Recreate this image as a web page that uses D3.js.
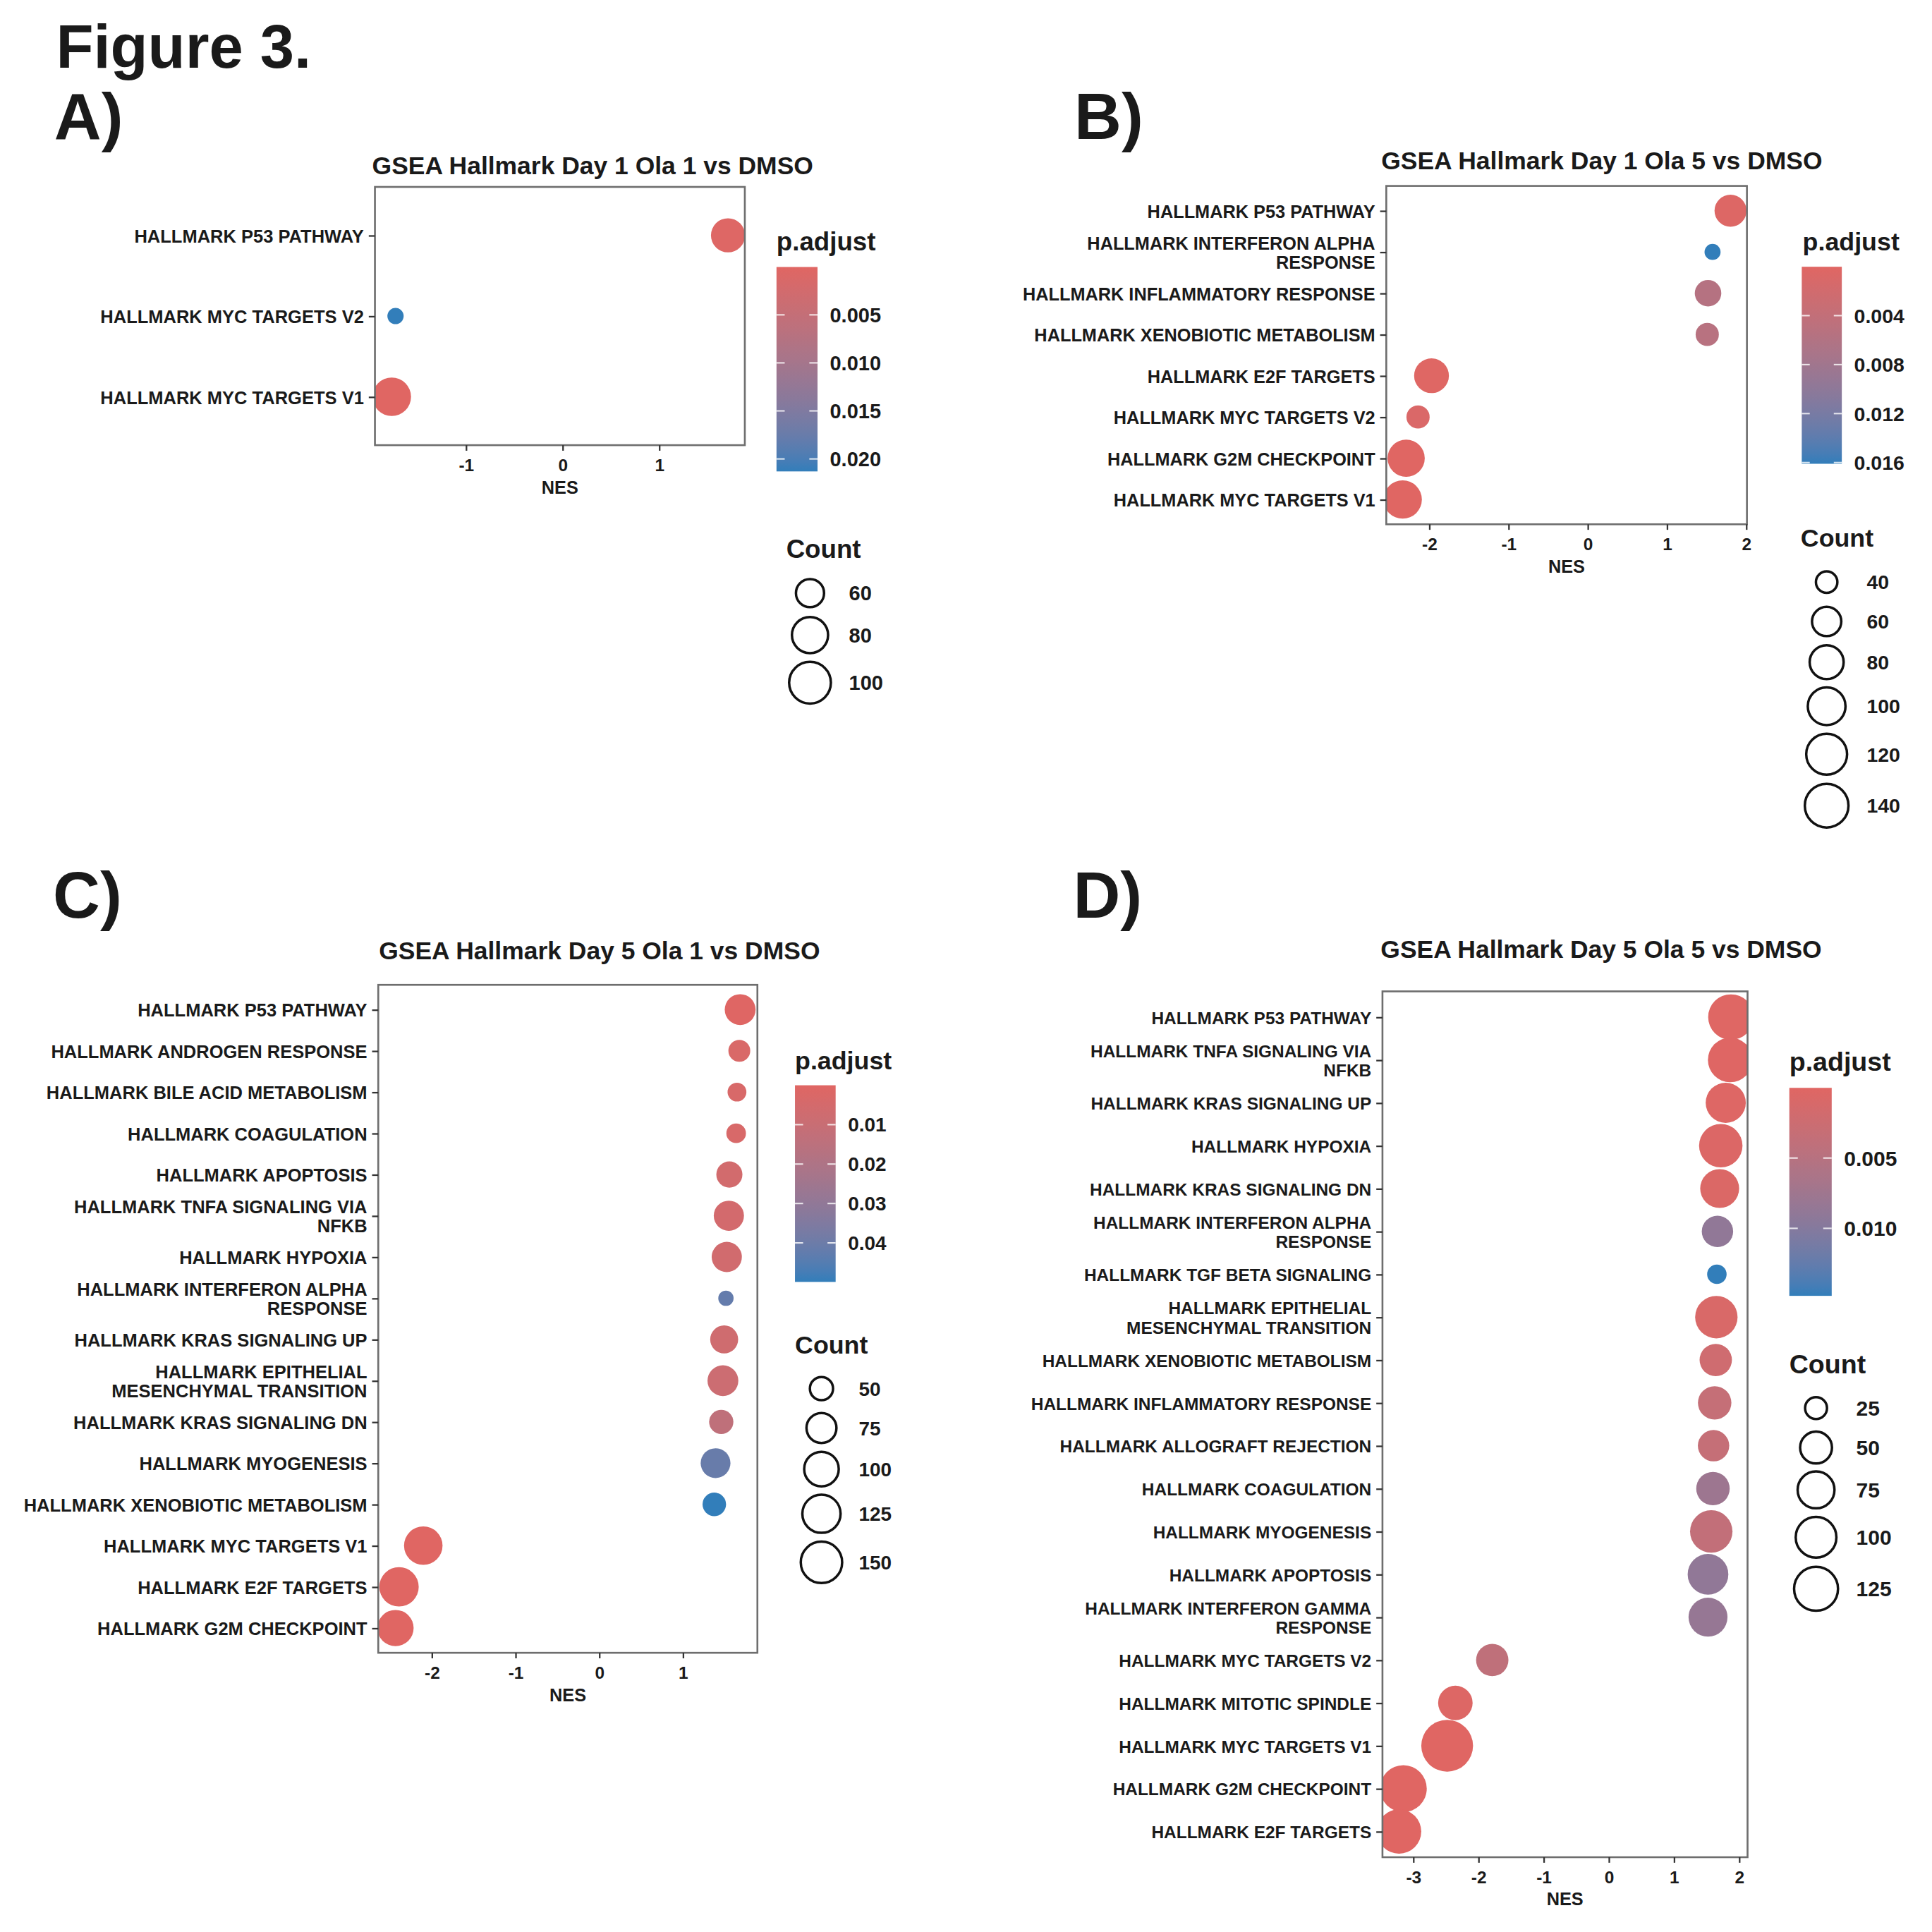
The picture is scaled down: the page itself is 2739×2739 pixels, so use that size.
<!DOCTYPE html>
<html>
<head>
<meta charset="utf-8">
<script src="https://cdn.jsdelivr.net/npm/d3@7"></script>
<style>
  body { margin: 0; background: #fff; }
  text { font-family: "Liberation Sans", Arial, sans-serif; font-weight: bold; fill: #1a1a1a; }
</style>
</head>
<body>
<div id="visual"></div>
<script>
// ---- Panel A: Day 1 Ola 1 vs DMSO
var aTerms = ["HALLMARK P53 PATHWAY", "HALLMARK MYC TARGETS V2", "HALLMARK MYC TARGETS V1"];
var aNES   = [1.714, -1.728, -1.767];
var aPadj  = [0.0004, 0.0213, 0.00002];
var aCount = [74, 49, 88];
var aXTicks = [-1, 0, 1];
var aPBreaks = [0.005, 0.010, 0.015, 0.020];
var aCountBreaks = [60, 80, 100];

// ---- Panel B: Day 1 Ola 5 vs DMSO
var bTerms = ["HALLMARK P53 PATHWAY", "HALLMARK INTERFERON ALPHA\nRESPONSE", "HALLMARK INFLAMMATORY RESPONSE",
  "HALLMARK XENOBIOTIC METABOLISM", "HALLMARK E2F TARGETS", "HALLMARK MYC TARGETS V2",
  "HALLMARK G2M CHECKPOINT", "HALLMARK MYC TARGETS V1"];
var bNES   = [1.804, 1.577, 1.52, 1.51, -1.97, -2.14, -2.29, -2.334];
var bPadj  = [0.0004, 0.0161, 0.0056, 0.0053, 0.0002, 0.0009, 0.00006, 0.00001];
var bCount = [71, 36, 51, 43, 84, 43, 97, 104];
var bXTicks = [-2, -1, 0, 1, 2];
var bPBreaks = [0.004, 0.008, 0.012, 0.016];
var bCountBreaks = [40, 60, 80, 100, 120, 140];

// ---- Panel C: Day 5 Ola 1 vs DMSO
var cTerms = ["HALLMARK P53 PATHWAY", "HALLMARK ANDROGEN RESPONSE", "HALLMARK BILE ACID METABOLISM",
  "HALLMARK COAGULATION", "HALLMARK APOPTOSIS", "HALLMARK TNFA SIGNALING VIA\nNFKB", "HALLMARK HYPOXIA",
  "HALLMARK INTERFERON ALPHA\nRESPONSE", "HALLMARK KRAS SIGNALING UP", "HALLMARK EPITHELIAL\nMESENCHYMAL TRANSITION",
  "HALLMARK KRAS SIGNALING DN", "HALLMARK MYOGENESIS", "HALLMARK XENOBIOTIC METABOLISM",
  "HALLMARK MYC TARGETS V1", "HALLMARK E2F TARGETS", "HALLMARK G2M CHECKPOINT"];
var cNES   = [1.685, 1.675, 1.647, 1.637, 1.556, 1.55, 1.525, 1.515, 1.494, 1.479, 1.459, 1.391, 1.376, -2.10, -2.39, -2.432];
var cPadj  = [0.0005, 0.003, 0.0033, 0.0035, 0.006, 0.0055, 0.0065, 0.042, 0.007, 0.0085, 0.0135, 0.041, 0.0499, 0.0001, 0.00001, 0.00003];
var cCount = [79, 47, 42, 43, 59, 76, 76, 40, 66, 79, 53, 74, 51, 127, 134, 111];
var cXTicks = [-2, -1, 0, 1];
var cPBreaks = [0.01, 0.02, 0.03, 0.04];
var cCountBreaks = [50, 75, 100, 125, 150];

// ---- Panel D: Day 5 Ola 5 vs DMSO
var dTerms = ["HALLMARK P53 PATHWAY", "HALLMARK TNFA SIGNALING VIA\nNFKB", "HALLMARK KRAS SIGNALING UP",
  "HALLMARK HYPOXIA", "HALLMARK KRAS SIGNALING DN", "HALLMARK INTERFERON ALPHA\nRESPONSE",
  "HALLMARK TGF BETA SIGNALING", "HALLMARK EPITHELIAL\nMESENCHYMAL TRANSITION", "HALLMARK XENOBIOTIC METABOLISM",
  "HALLMARK INFLAMMATORY RESPONSE", "HALLMARK ALLOGRAFT REJECTION", "HALLMARK COAGULATION",
  "HALLMARK MYOGENESIS", "HALLMARK APOPTOSIS", "HALLMARK INTERFERON GAMMA\nRESPONSE",
  "HALLMARK MYC TARGETS V2", "HALLMARK MITOTIC SPINDLE", "HALLMARK MYC TARGETS V1",
  "HALLMARK G2M CHECKPOINT", "HALLMARK E2F TARGETS"];
var dNES   = [1.876, 1.865, 1.796, 1.72, 1.703, 1.669, 1.66, 1.652, 1.643, 1.626, 1.609, 1.60, 1.574, 1.524, 1.524, -1.786, -2.352, -2.478, -3.15, -3.216];
var dPadj  = [0.0002, 0.0001, 0.0003, 0.0005, 0.0006, 0.0089, 0.0148, 0.0009, 0.0022, 0.0034, 0.0034, 0.0077, 0.0037, 0.0089, 0.0084, 0.004, 0.0004, 0.00005, 0.00001, 0.00002];
var dCount = [139, 131, 96, 121, 88, 48, 24, 113, 52, 57, 48, 57, 113, 100, 88, 52, 62, 200, 150, 129];
var dXTicks = [-3, -2, -1, 0, 1, 2];
var dPBreaks = [0.005, 0.010];
var dCountBreaks = [25, 50, 75, 100, 125];

var lowCol = "#e06663", highCol = "#327eba";

// layout in a 1568 unit coordinate system, scaled up by the viewBox
var panels = [
  {title: "GSEA Hallmark Day 1 Ola 1 vs DMSO", terms: aTerms, nes: aNES, padj: aPadj, count: aCount,
   xTicks: aXTicks, pBreaks: aPBreaks, countBreaks: aCountBreaks, pFmt: ".3f",
   box: [304.3, 151.7, 604.5, 361.3], titleXY: [481, 134], rRange: [6.6, 15.65],
   bar: [630.2, 216.7, 33.3, 165.9], barTitleXY: [630.2, 197.7], countTitleXY: [638.1, 445.4],
   keyX: 657.4, keyLabelX: 689, fs: {axis: 14.6, tick: 14, legTitle: 21, legText: 16.6}},
  {title: "GSEA Hallmark Day 1 Ola 5 vs DMSO", terms: bTerms, nes: bNES, padj: bPadj, count: bCount,
   xTicks: bXTicks, pBreaks: bPBreaks, countBreaks: bCountBreaks, pFmt: ".3f",
   box: [1125.1, 150.9, 1417.8, 425.5], titleXY: [1300, 130], rRange: [6.5, 15.57],
   bar: [1462.3, 216.5, 32.5, 159.9], barTitleXY: [1463, 197.7], countTitleXY: [1461.4, 436.4],
   keyX: 1482.5, keyLabelX: 1515, fs: {axis: 14.5, tick: 14, legTitle: 20.5, legText: 16.3}},
  {title: "GSEA Hallmark Day 5 Ola 1 vs DMSO", terms: cTerms, nes: cNES, padj: cPadj, count: cCount,
   xTicks: cXTicks, pBreaks: cPBreaks, countBreaks: cCountBreaks, pFmt: ".2f",
   box: [307, 799.3, 614.7, 1341.4], titleXY: [486.5, 771], rRange: [6.2, 15.99],
   bar: [645.2, 880.8, 33, 159.6], barTitleXY: [645.2, 862.8], countTitleXY: [645.2, 1091],
   keyX: 666.7, keyLabelX: 697, fs: {axis: 14.6, tick: 14, legTitle: 20.5, legText: 16}},
  {title: "GSEA Hallmark Day 5 Ola 5 vs DMSO", terms: dTerms, nes: dNES, padj: dPadj, count: dCount,
   xTicks: dXTicks, pBreaks: dPBreaks, countBreaks: dCountBreaks, pFmt: ".3f",
   box: [1122, 804.6, 1418.3, 1507.3], titleXY: [1299.5, 770], rRange: [7.9, 21],
   bar: [1452.2, 882.9, 34.4, 168.8], barTitleXY: [1452.2, 863.5], countTitleXY: [1452.2, 1106.8],
   keyX: 1473.9, keyLabelX: 1506.5, fs: {axis: 14, tick: 14, legTitle: 21.5, legText: 17.2}}
];

var svg = d3.select("#visual").append("svg")
  .attr("width", 2739).attr("height", 2739)
  .attr("viewBox", "0 0 1568 1568");
svg.append("rect").attr("width", 1568).attr("height", 1568).attr("fill", "#fff");
var defs = svg.append("defs");

// figure letters
svg.append("text").attr("x", 45.5).attr("y", 55.2).attr("font-size", 49.7).text("Figure 3.");
[["A)", 44, 113], ["B)", 871.9, 113], ["C)", 43, 745], ["D)", 871, 745]].forEach(function(l) {
  svg.append("text").attr("x", l[1]).attr("y", l[2]).attr("font-size", 53).text(l[0]);
});

panels.forEach(function(P, i) {
  var g = svg.append("g");
  var box = P.box;

  // x: NES with ggplot style 5% expansion
  var ext = d3.extent(P.nes), pad = (ext[1] - ext[0]) * 0.05;
  var x = d3.scaleLinear().domain([ext[0] - pad, ext[1] + pad]).range([box[0], box[2]]);
  var y = d3.scalePoint().domain(P.terms).range([box[1], box[3]]).padding(0.6);

  var pExt = d3.extent(P.padj);
  var col = d3.scaleLinear().domain(pExt).range([lowCol, highCol]).interpolate(d3.interpolateLab);

  var nExt = d3.extent(P.count);
  var size = d3.scaleSqrt().domain([0, nExt[1] - nExt[0]]).range(P.rRange);
  function rad(n) { return size(n - nExt[0]); }

  var rows = P.terms.map(function(t, j) {
    return {term: t, nes: P.nes[j], padj: P.padj[j], count: P.count[j]};
  });

  // clip so points stop at the panel border
  defs.append("clipPath").attr("id", "clip" + i)
    .append("rect")
    .attr("x", box[0]).attr("y", box[1])
    .attr("width", box[2] - box[0]).attr("height", box[3] - box[1]);

  g.append("g").attr("clip-path", "url(#clip" + i + ")")
    .selectAll("circle")
    .data(rows)
    .enter()
    .append("circle")
    .attr("cx", function(d) { return x(d.nes); })
    .attr("cy", function(d) { return y(d.term); })
    .attr("r", function(d) { return rad(d.count); })
    .attr("fill", function(d) { return col(d.padj); });

  g.append("rect")
    .attr("x", box[0]).attr("y", box[1])
    .attr("width", box[2] - box[0]).attr("height", box[3] - box[1])
    .attr("fill", "none").attr("stroke", "#6e6e6e").attr("stroke-width", 1.5);

  // y axis with wrapped labels
  var lh = 15.5;
  var yAx = g.append("g")
    .attr("transform", "translate(" + box[0] + ",0)")
    .call(d3.axisLeft(y).tickSize(5).tickPadding(4));
  yAx.select(".domain").remove();
  yAx.selectAll(".tick line").attr("stroke", "#333").attr("stroke-width", 1.3);
  yAx.selectAll(".tick text")
    .attr("font-size", P.fs.axis)
    .attr("dy", null)
    .each(function(d) {
      var t = d3.select(this), lines = d.split("\n");
      t.text(null);
      lines.forEach(function(line, k) {
        t.append("tspan")
          .attr("x", -9)
          .attr("y", (k - (lines.length - 1) / 2) * lh)
          .attr("dy", "0.36em")
          .text(line);
      });
    });

  // x axis
  var xAx = g.append("g")
    .attr("transform", "translate(0," + box[3] + ")")
    .call(d3.axisBottom(x).tickValues(P.xTicks).tickFormat(function(d) { return String(d); }).tickSize(4.5));
  xAx.select(".domain").remove();
  xAx.selectAll(".tick line").attr("stroke", "#333").attr("stroke-width", 1.3);
  xAx.selectAll(".tick text")
    .attr("font-size", P.fs.tick)
    .attr("y", 16).attr("dy", "0.36em");

  g.append("text")
    .attr("x", (box[0] + box[2]) / 2).attr("y", box[3] + 34).attr("dy", "0.36em")
    .attr("text-anchor", "middle").attr("font-size", 14.5)
    .text("NES");

  g.append("text")
    .attr("x", P.titleXY[0]).attr("y", P.titleXY[1]).attr("dy", "0.36em")
    .attr("text-anchor", "middle").attr("font-size", 20.3)
    .text(P.title);

  // p.adjust colour bar
  var grad = defs.append("linearGradient").attr("id", "grad" + i)
    .attr("x1", 0).attr("y1", 0).attr("x2", 0).attr("y2", 1);
  d3.range(0, 1.0001, 0.05).forEach(function(t) {
    grad.append("stop").attr("offset", t)
      .attr("stop-color", col(pExt[0] + t * (pExt[1] - pExt[0])));
  });
  var bar = P.bar;
  var yBar = d3.scaleLinear().domain(pExt).range([bar[1], bar[1] + bar[3]]);

  g.append("text")
    .attr("x", P.barTitleXY[0]).attr("y", P.barTitleXY[1]).attr("dy", "0.26em")
    .attr("font-size", P.fs.legTitle)
    .text("p.adjust");
  g.append("rect")
    .attr("x", bar[0]).attr("y", bar[1]).attr("width", bar[2]).attr("height", bar[3])
    .attr("fill", "url(#grad" + i + ")");

  var tickLen = bar[2] / 5;
  P.pBreaks.forEach(function(b) {
    var yy = yBar(b);
    g.append("line").attr("x1", bar[0]).attr("x2", bar[0] + tickLen)
      .attr("y1", yy).attr("y2", yy).attr("stroke", "#fff").attr("stroke-opacity", 0.8).attr("stroke-width", 1.2);
    g.append("line").attr("x1", bar[0] + bar[2] - tickLen).attr("x2", bar[0] + bar[2])
      .attr("y1", yy).attr("y2", yy).attr("stroke", "#fff").attr("stroke-opacity", 0.8).attr("stroke-width", 1.2);
    g.append("text")
      .attr("x", bar[0] + bar[2] + 10).attr("y", yy).attr("dy", "0.36em")
      .attr("font-size", P.fs.legText)
      .text(d3.format(P.pFmt)(b));
  });

  // Count size legend
  g.append("text")
    .attr("x", P.countTitleXY[0]).attr("y", P.countTitleXY[1]).attr("dy", "0.36em")
    .attr("font-size", P.fs.legTitle)
    .text("Count");

  var keys = P.countBreaks.map(function(n) {
    var r = rad(n);
    return {n: n, r: r, h: Math.max(32, 2.3 * (r + 1))};
  });
  var yy = P.countTitleXY[1] + 20;
  keys.forEach(function(k) {
    var cy = yy + k.h / 2;
    g.append("circle")
      .attr("cx", P.keyX).attr("cy", cy).attr("r", k.r)
      .attr("fill", "none").attr("stroke", "#111").attr("stroke-width", 2);
    g.append("text")
      .attr("x", P.keyLabelX).attr("y", cy).attr("dy", "0.36em")
      .attr("font-size", P.fs.legText)
      .text(k.n);
    yy += k.h;
  });
});
</script>
</body>
</html>
